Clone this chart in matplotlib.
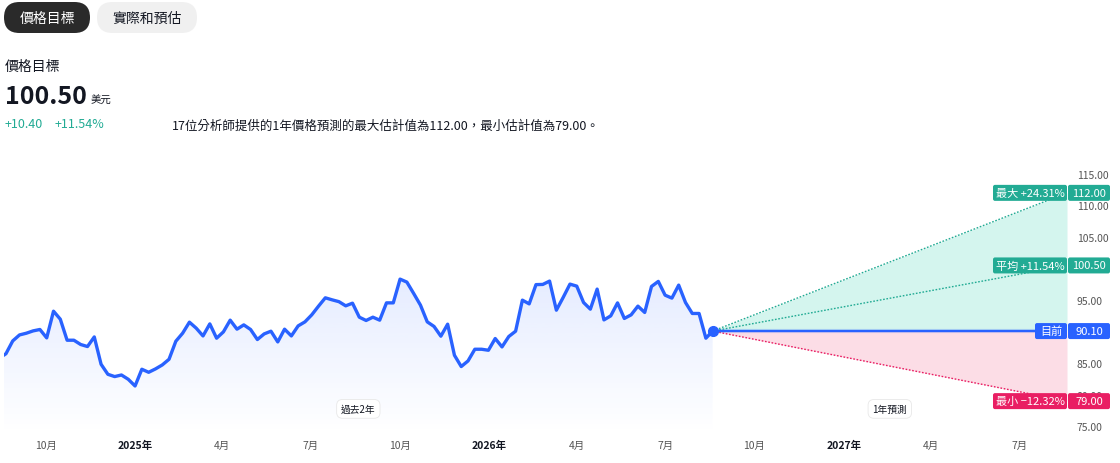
import numpy as np
import pandas as pd
import matplotlib
matplotlib.use('Agg')
import matplotlib.pyplot as plt
from matplotlib.patches import FancyBboxPatch
from matplotlib.transforms import Affine2D, blended_transform_factory

plt.rcParams['font.family'] = ['Noto Sans CJK TC', 'DejaVu Sans']

# 圖表資料
last_date = '2026-08-19'
prices = [85.80, 86.51, 88.54, 89.49, 89.76, 90.13, 90.35, 89.02, 93.25, 91.98,
          88.65, 88.65, 87.97, 87.65, 89.17, 84.84, 83.25, 82.89, 83.14, 82.46,
          81.40, 84.05, 83.57, 84.10, 84.73, 85.63, 88.49, 89.76, 91.51, 90.56,
          89.33, 91.24, 88.97, 89.97, 91.83, 90.40, 91.08, 90.35, 88.76, 89.65,
          90.08, 88.38, 90.40, 89.33, 90.92, 91.56, 92.67, 94.05, 95.37, 95.05,
          94.76, 94.10, 94.52, 92.30, 91.78, 92.30, 91.83, 94.57, 94.57, 98.33,
          97.86, 96.06, 94.21, 91.56, 90.83, 89.29, 91.19, 86.27, 84.48, 85.37,
          87.22, 87.22, 87.06, 88.92, 87.59, 89.24, 90.08, 95.00, 94.41, 97.46,
          97.49, 98.02, 93.41, 95.43, 97.54, 97.22, 94.63, 93.57, 96.75, 91.87,
          92.51, 94.57, 92.10, 92.67, 94.05, 93.05, 97.17, 97.97, 95.79, 95.32,
          97.38, 94.63, 92.89, 92.89, 88.97, 90.10]
current = 90.10
target_high = 112.00
target_avg = 100.50
target_low = 79.00
tag_texts = ['最大 +24.31%', '平均 +11.54%', '目前', '最小 −12.32%']
tick_dates = ['2024-10-01', '2025-01-01', '2025-04-01', '2025-07-01',
              '2025-10-01', '2026-01-01', '2026-04-01', '2026-07-01',
              '2026-10-01', '2027-01-01', '2027-04-01', '2027-07-01']
tick_labels = ['10月', '2025年', '4月', '7月', '10月', '2026年', '4月', '7月',
               '10月', '2027年', '4月', '7月']
y_ticks = [75, 80, 85, 90, 95, 100, 105, 110, 115]
# 90 和 100 的刻度文字被右側標籤蓋住
y_tick_labels = ['75.00', '80.00', '85.00', '', '95.00', '', '105.00', '110.00', '115.00']

W, H = 1120, 464
BLUE = '#2962ff'
TEAL = '#22ab94'
RED = '#e91e63'
DARK = '#131722'

# 像素座標 (左上為原點)
PX = Affine2D().scale(1, -1).translate(0, H)

fig = plt.figure(figsize=(W / 100, H / 100), dpi=100)
ax = fig.add_axes([4 / W, (H - 435) / H, 1063 / W, (435 - 156) / H])
y_lo, y_hi = 73.79, 118
ppu = (435 - 156) / (y_hi - y_lo)

dates = pd.date_range(end=last_date, periods=len(prices), freq='7D')
now = dates[-1]
start_date = now - pd.DateOffset(years=2)
end_date = now + pd.DateOffset(years=1)

# 歷史價格的漸層填色
poly = ax.fill_between(dates, prices, y_lo, color='none', lw=0)
grad = np.zeros((256, 1, 4))
grad[:, 0, :3] = matplotlib.colors.to_rgb(BLUE)
grad[:, 0, 3] = np.linspace(0.12, 0.0, 256)
x0n = matplotlib.dates.date2num(dates[0])
x1n = matplotlib.dates.date2num(now)
im = ax.imshow(grad, extent=[x0n, x1n, y_lo, max(prices)], aspect='auto',
               origin='upper', zorder=1)
im.set_clip_path(poly.get_paths()[0], transform=ax.transData)

ax.plot(dates, prices, color=BLUE, lw=2.4, solid_joinstyle='round', zorder=4)

# 預測區域
fx = [now, end_date]
ax.fill_between(fx, [current, current], [current, target_high], color='#d4f5ee', lw=0, zorder=1)
ax.fill_between(fx, [current, current], [current, target_low], color='#fcdde6', lw=0, zorder=1)
for tgt, col in [(target_high, TEAL), (target_avg, TEAL), (target_low, RED)]:
    ax.plot(fx, [current, tgt], color=col, lw=1, ls=(0, (1.2, 1.2)), zorder=2)
ax.plot(fx, [current, current], color=BLUE, lw=3, alpha=0.2, zorder=3)
ax.plot(fx, [current, current], color=BLUE, lw=1.6, zorder=3)
ax.plot([now], [current], 'o', color=BLUE, ms=7, zorder=5)

# 右側標籤
blend = blended_transform_factory(PX, ax.transData)


def tag(y, text, color, x0, x1):
    box = FancyBboxPatch((x0, y - 8 / ppu), x1 - x0, 16 / ppu,
                         boxstyle='round,pad=0,rounding_size=2', mutation_aspect=1 / ppu,
                         transform=blend, fc=color, ec='none', clip_on=False, zorder=6)
    ax.add_patch(box)
    ax.text((x0 + x1) / 2, y, text, transform=blend, ha='center', va='center',
            color='white', fontsize=8, zorder=7, clip_on=False)


tag(target_high, tag_texts[0], TEAL, 993, 1067)
tag(target_high, f'{target_high:.2f}', TEAL, 1068, 1110)
tag(target_avg, tag_texts[1], TEAL, 993, 1067)
tag(target_avg, f'{target_avg:.2f}', TEAL, 1068, 1110)
tag(current, tag_texts[2], BLUE, 1035, 1067)
tag(current, f'{current:.2f}', BLUE, 1068, 1110)
tag(target_low, tag_texts[3], RED, 993, 1067)
tag(target_low, f'{target_low:.2f}', RED, 1068, 1110)

# 區間說明
pill = dict(boxstyle='round,pad=0.45,rounding_size=0.6', fc='white', ec='#e8e8e8', lw=0.6)
ax.text(start_date + (now - start_date) / 2, 0.09, '過去2年', transform=ax.get_xaxis_transform(),
        ha='center', va='center', fontsize=7, color=DARK, bbox=pill, zorder=6)
ax.text(now + (end_date - now) / 2, 0.09, '1年預測', transform=ax.get_xaxis_transform(),
        ha='center', va='center', fontsize=7, color=DARK, bbox=pill, zorder=6)

# 座標軸
ax.set_xlim(start_date, end_date)
ax.set_ylim(y_lo, y_hi)
ax.set_xticks(pd.to_datetime(tick_dates), tick_labels)
ax.set_yticks(y_ticks, y_tick_labels)
ax.yaxis.tick_right()
ax.tick_params(axis='x', length=0, pad=4, labelsize=7.5, labelcolor='#555555')
ax.tick_params(axis='y', length=0, pad=7, labelsize=7.5, labelcolor='#555555')
for lab in ax.get_xticklabels():
    if lab.get_text().endswith('年'):
        lab.set_fontweight('bold')
        lab.set_color(DARK)
for s in ax.spines.values():
    s.set_visible(False)

# 上方標題區
fig.add_artist(FancyBboxPatch((4, 3), 86, 31, boxstyle='round,pad=0,rounding_size=15.5',
                              transform=PX, fc='#2a2a2a', ec='none'))
fig.add_artist(FancyBboxPatch((97, 3), 100, 31, boxstyle='round,pad=0,rounding_size=15.5',
                              transform=PX, fc='#f0f0f0', ec='none'))
fig.text(47, 18.5, '價格目標', transform=PX, ha='center', va='center', fontsize=10, color='white')
fig.text(147, 18.5, '實際和預估', transform=PX, ha='center', va='center', fontsize=10, color=DARK)
fig.text(5, 67, '價格目標', transform=PX, va='center', fontsize=10, color=DARK)
fig.text(5, 97, f'{target_avg:.2f}', transform=PX, va='center', fontsize=18, fontweight='bold', color=DARK)
fig.text(91, 101, '美元', transform=PX, va='center', fontsize=7.5, color=DARK)
fig.text(5, 125, f'+{target_avg - current:.2f}', transform=PX, va='center', fontsize=9, color=TEAL)
fig.text(55, 125, f'+{(target_avg / current - 1) * 100:.2f}%', transform=PX, va='center', fontsize=9, color=TEAL)
fig.text(172, 126, f'17位分析師提供的1年價格預測的最大估計值為{target_high:.2f}，最小估計值為{target_low:.2f}。',
         transform=PX, va='center', fontsize=9, color=DARK)

fig.savefig('out.png', dpi=100)
